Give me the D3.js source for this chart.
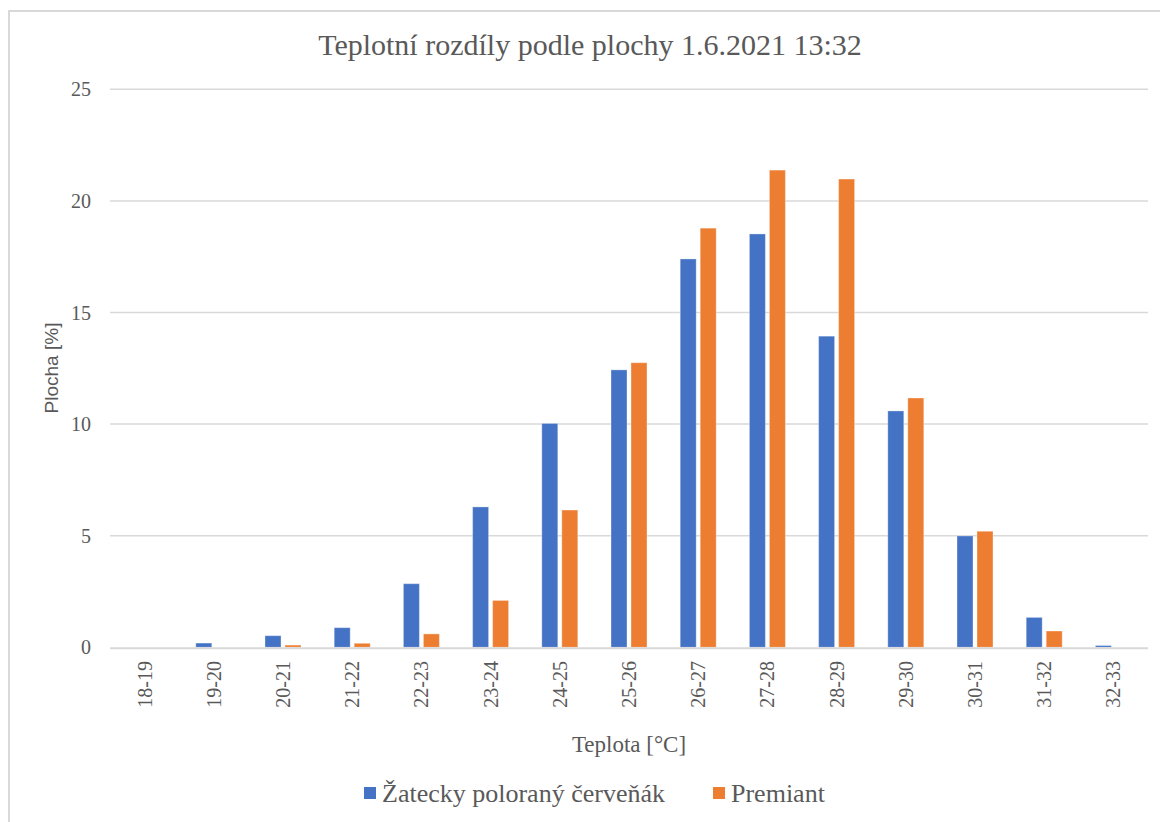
<!DOCTYPE html>
<html>
<head>
<meta charset="utf-8">
<script src="https://cdn.jsdelivr.net/npm/d3@7"></script>
<style>
  html, body { margin: 0; padding: 0; background: #fff; }
  svg text { fill: #595959; }
</style>
</head>
<body>
<svg id="chart" width="1160" height="822"></svg>
<script>
const categories = ["18-19","19-20","20-21","21-22","22-23","23-24","24-25","25-26","26-27","27-28","28-29","29-30","30-31","31-32","32-33"];
const seriesNames = ["Žatecky poloraný červeňák", "Premiant"];
const zatecky = [0, 0.19, 0.52, 0.88, 2.85, 6.29, 10.03, 12.43, 17.4, 18.52, 13.94, 10.59, 4.99, 1.34, 0.08];
const premiant = [0, 0, 0.1, 0.18, 0.6, 2.1, 6.15, 12.75, 18.78, 21.38, 20.98, 11.17, 5.2, 0.73, 0];
const yTicks = [0, 5, 10, 15, 20, 25];
const colors = ["#4472C4", "#ED7D31"];
const titleText = "Teplotní rozdíly podle plochy 1.6.2021 13:32";
const xTitle = "Teplota [°C]";
const yTitle = "Plocha [%]";

(function () {
const svg = d3.select("#chart");
const serif = "'Liberation Serif', 'Times New Roman', serif";

// outer border
svg.append("rect").attr("x", 9).attr("y", 11).attr("width", 1160).attr("height", 830)
  .attr("fill", "none").attr("stroke", "#d9d9d9").attr("stroke-width", 2);

const mLeft = 110, mRight = 1148, mTop = 89.3, mBottom = 647.3;
const x = d3.scaleBand().domain(categories).range([mLeft, mRight]);
const y = d3.scaleLinear().domain([0, 25]).range([mBottom, mTop]);

// gridlines
svg.append("g").selectAll("line").data(yTicks.filter(d => d > 0)).join("line")
  .attr("x1", mLeft).attr("x2", mRight)
  .attr("y1", d => y(d)).attr("y2", d => y(d))
  .attr("stroke", "#d9d9d9").attr("stroke-width", 1.5);

// y tick labels
svg.append("g").selectAll("text").data(yTicks).join("text")
  .attr("x", 91).attr("y", d => y(d)).attr("dy", "0.35em")
  .attr("text-anchor", "end")
  .style("font-family", serif).style("font-size", "20px")
  .text(d => d);

// bars
const barW = 16, gap = 4;
const data = categories.map((c, i) => ({ c, vals: [zatecky[i], premiant[i]] }));
const g = svg.append("g");
data.forEach(d => {
  const cx = x(d.c) + x.bandwidth() / 2;
  d.vals.forEach((v, s) => {
    if (v <= 0) return;
    const bx = s === 0 ? cx - gap / 2 - barW : cx + gap / 2;
    g.append("rect")
      .attr("x", bx).attr("y", y(v))
      .attr("width", barW).attr("height", y(0) - y(v))
      .attr("fill", colors[s])
      .attr("stroke", "#ffffff").attr("stroke-opacity", 0.35).attr("stroke-width", 1);
  });
});

// x axis line
svg.append("line").attr("x1", mLeft).attr("x2", mRight)
  .attr("y1", y(0) + 1).attr("y2", y(0) + 1)
  .attr("stroke", "#d9d9d9").attr("stroke-width", 2);

// x tick labels rotated
svg.append("g").selectAll("text").data(categories).join("text")
  .attr("transform", d => `translate(${x(d) + x.bandwidth() / 2 + 7},661) rotate(-90)`)
  .attr("text-anchor", "end")
  .style("font-family", serif).style("font-size", "20px")
  .text(d => d);

// title
svg.append("text").attr("x", 590).attr("y", 55).attr("text-anchor", "middle")
  .style("font-family", serif).style("font-size", "30px")
  .text(titleText);

// x axis title
svg.append("text").attr("x", 629).attr("y", 752).attr("text-anchor", "middle")
  .style("font-family", serif).style("font-size", "23px")
  .text(xTitle);

// y axis title
svg.append("text").attr("transform", "translate(58,368) rotate(-90)")
  .attr("text-anchor", "middle")
  .style("font-family", "'Liberation Sans', Arial, sans-serif").style("font-size", "19px")
  .text(yTitle);

// legend
const legendX = [364, 713];
const lg = svg.append("g");
seriesNames.forEach((n, i) => {
  lg.append("rect").attr("x", legendX[i]).attr("y", 787).attr("width", 12).attr("height", 12)
    .attr("fill", colors[i]);
  lg.append("text").attr("x", legendX[i] + 18).attr("y", 802)
    .style("font-family", serif).style("font-size", "26px")
    .text(n);
});
})();
</script>
</body>
</html>
